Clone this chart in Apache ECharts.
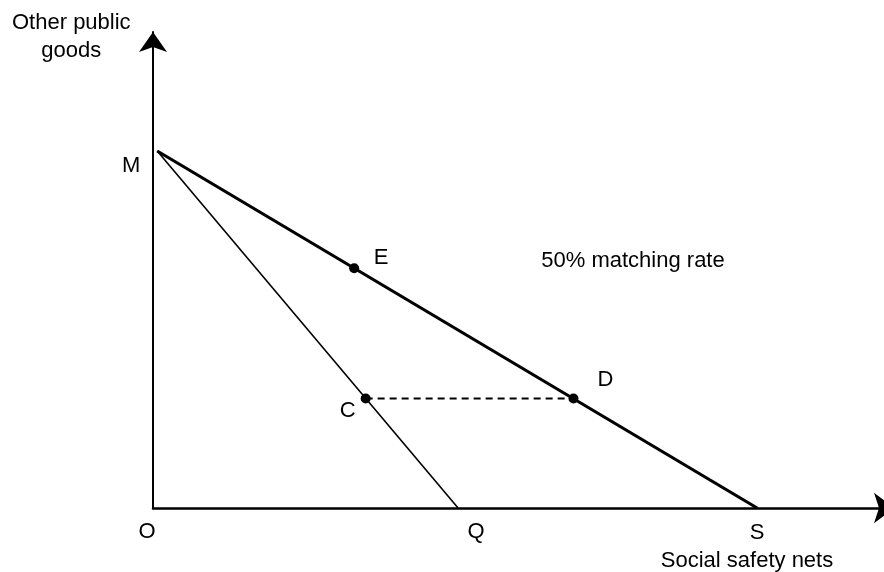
<!DOCTYPE html>
<html>
<head>
<meta charset="utf-8">
<script src="https://cdn.jsdelivr.net/npm/echarts@6/dist/echarts.min.js"></script>
<style>html,body{margin:0;padding:0;background:#fff}#c{width:884px;height:572px}</style>
</head>
<body>
<div id="c"></div>
<script>
// ---- data ----
var pointNames = ['M', 'O', 'Q', 'S', 'E', 'C', 'D'];
var pointX =     [0.7, 0,   50.5, 100, 33.3, 35.2, 69.6];
var pointY =     [60,  0,   0,    0,   40.3, 18.4, 18.4];
var thickLine = ['M', 'S'];          // 50% matching rate budget line
var thinLine = ['M', 'Q'];           // original budget line
var dashedLine = ['C', 'D'];
var dotPoints = ['E', 'C', 'D'];
var xAxisTitle = 'Social safety nets';
var yAxisTitle = 'Other public\ngoods';
var noteText = '50% matching rate';
var xMax = 121, yMax = 80;

function pt(n){ var i = pointNames.indexOf(n); return [pointX[i], pointY[i]]; }

var FONT = "'Liberation Sans Narrow', 'Arial Narrow', 'Liberation Sans', Arial, sans-serif";
var FS = 22;
var labelOffset = { M:[-26,15], O:[-6,24], Q:[18,24], S:[0,25], E:[27,-10], C:[-18,12], D:[32,-19] };

var chart = echarts.init(document.getElementById('c'), null, {renderer:'canvas'});
chart.setOption({
  animation: false,
  grid: { left: 153, right: 0, top: 32, bottom: 64 },
  xAxis: {
    type: 'value', min: 0, max: xMax,
    axisLine: { show: true, lineStyle: { color: '#000', width: 2.5 }, symbol: ['none', 'arrow'], symbolSize: [23, 20], symbolOffset: [0, 10] },
    axisTick: { show: false }, axisLabel: { show: false }, splitLine: { show: false }
  },
  yAxis: {
    type: 'value', min: 0, max: yMax,
    axisLine: { show: true, onZero: false, lineStyle: { color: '#000', width: 2 }, symbol: ['none', 'arrow'], symbolSize: [21, 20] },
    axisTick: { show: false }, axisLabel: { show: false }, splitLine: { show: false }
  },
  graphic: [
    { type: 'text', left: 12, top: 9, style: { text: yAxisTitle, font: FS + 'px ' + FONT, fill: '#000', textAlign: 'center', lineHeight: 28 } },
    { type: 'text', x: 747, y: 550, style: { text: xAxisTitle, font: FS + 'px ' + FONT, fill: '#000', textAlign: 'center' } },
    { type: 'text', x: 633, y: 250, style: { text: noteText, font: FS + 'px ' + FONT, fill: '#000', textAlign: 'center' } }
  ],
  series: [
    { type: 'line', data: thinLine.map(pt), symbol: 'none', lineStyle: { color: '#000', width: 1.6 }, silent: true },
    { type: 'line', data: thickLine.map(pt), symbol: 'none', lineStyle: { color: '#000', width: 3.2 }, silent: true },
    { type: 'line', data: dashedLine.map(pt), symbol: 'none', lineStyle: { color: '#000', width: 1.8, type: [7, 5] }, silent: true },
    { type: 'scatter', data: dotPoints.map(pt), symbol: 'circle', symbolSize: 10, itemStyle: { color: '#000', opacity: 1 }, silent: true },
    { type: 'scatter', symbolSize: 0, silent: true, itemStyle: { opacity: 1 },
      data: pointNames.map(function(n, i){
        return { value: [pointX[i], pointY[i]], label: { show: true, formatter: n, position: 'inside', offset: labelOffset[n],
          fontFamily: FONT, fontSize: FS, color: '#000', opacity: 1 } };
      })
    }
  ]
});
</script>
</body>
</html>
